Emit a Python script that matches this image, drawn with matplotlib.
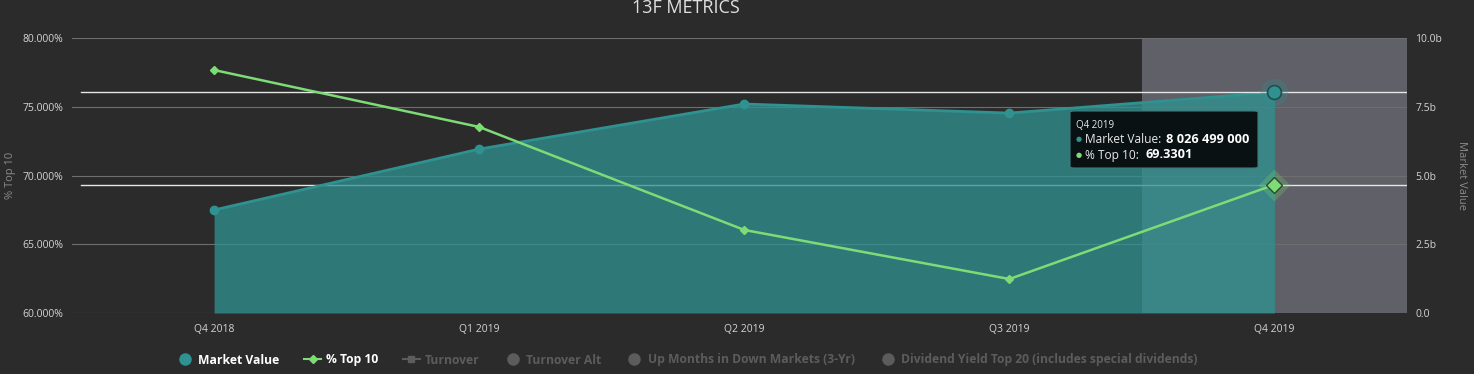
import numpy as np
import matplotlib
matplotlib.use('Agg')
import matplotlib.pyplot as plt
from matplotlib.lines import Line2D
from matplotlib.patches import FancyBboxPatch

plt.rcParams['font.family'] = ['Open Sans', 'DejaVu Sans']

# data
quarters = ['Q4 2018', 'Q1 2019', 'Q2 2019', 'Q3 2019', 'Q4 2019']
market_value = [3.745, 5.96, 7.60, 7.27, 8.0265]   # billions
pct_top10 = [77.67, 73.53, 66.04, 62.47, 69.3301]  # %
pct_ticks = [60, 65, 70, 75, 80]
mv_ticks = [0, 2.5, 5.0, 7.5, 10.0]
mv_tick_labels = ['0.0', '2.5b', '5.0b', '7.5b', '10.0b']
legend_items = ['Market Value', '% Top 10', 'Turnover', 'Turnover Alt',
                'Up Months in Down Markets (3-Yr)',
                'Dividend Yield Top 20 (includes special dividends)']
hover_idx = 4

BG = '#2b2b2c'
GRID = '#6e6e6e'
TEAL = '#2f9190'
GREEN = '#7ddc75'
TICK = '#d4d4d4'

W, H = 1474, 374
fig = plt.figure(figsize=(W / 100, H / 100), dpi=100, facecolor=BG)
ax = fig.add_axes([72 / W, 1 - 313 / H, (1407 - 72) / W, (313 - 38) / H])
ax.set_facecolor(BG)
ax2 = ax.twinx()

x = np.arange(len(quarters))
ax.set_xlim(-0.536, 4.5)
ax.set_ylim(60, 80)
ax2.set_ylim(0, 10)

# hover band
ax.axvspan(hover_idx - 0.5, 4.5, color='#5f6068', zorder=0, lw=0)

for t in pct_ticks:
    ax.axhline(t, color=GRID, lw=0.8, zorder=1)

# market value area (right axis)
ax2.fill_between(x, 0, market_value, color=TEAL, alpha=0.77, lw=0, zorder=2)
ax2.plot(x, market_value, color=TEAL, lw=2, zorder=3)
ax2.plot(x[:hover_idx], market_value[:hover_idx], 'o', color=TEAL, ms=6, zorder=4)
ax2.plot(x[hover_idx], market_value[hover_idx], 'o', color=TEAL, ms=20, alpha=0.25, zorder=4, mec='none')
ax2.plot(x[hover_idx], market_value[hover_idx], 'o', color=TEAL, ms=10, mec='#1d4f50', mew=1.2, zorder=5)

# crosshair lines
ax2.axhline(market_value[hover_idx], xmin=0.007, color='#e6e6e6', lw=1, zorder=3.5)
ax.axhline(pct_top10[hover_idx], xmin=0.007, color='#e6e6e6', lw=1, zorder=1.5)

# % top 10 line, mapped onto the right axis scale
pct_on_ax2 = [(v - 60) / 20 * 10 for v in pct_top10]
ax2.plot(x, pct_on_ax2, color=GREEN, lw=1.8, zorder=6)
ax2.plot(x[:hover_idx], pct_on_ax2[:hover_idx], 'D', color=GREEN, ms=4, zorder=7)
ax2.plot(x[hover_idx], pct_on_ax2[hover_idx], 'D', color=GREEN, ms=16, alpha=0.25, mec='none', zorder=7)
ax2.plot(x[hover_idx], pct_on_ax2[hover_idx], 'D', color=GREEN, ms=8, mec='#2a4a2a', mew=1, zorder=8)

# axes styling
ax.set_xticks(x)
ax.set_xticklabels(quarters)
ax.set_yticks(pct_ticks)
ax.set_yticklabels([f'{t:.3f}%' for t in pct_ticks])
ax2.set_yticks(mv_ticks)
ax2.set_yticklabels(mv_tick_labels)
for a in (ax, ax2):
    a.tick_params(length=0, labelsize=7.5, colors=TICK, pad=6)
    for s in a.spines.values():
        s.set_visible(False)
ax.tick_params(axis='x', pad=8)
ax.set_ylabel('% Top 10', color='#8a8a8a', fontsize=8, va='center')
ax.yaxis.set_label_coords(-0.0464, 0.5)
ax2.set_ylabel('Market Value', color='#8a8a8a', fontsize=8, rotation=270, va='center')
ax2.yaxis.set_label_coords(1.0405, 0.5)

fig.text(686 / W, 1 - 8 / H, '13F METRICS', color='#e0e0e0', fontsize=13,
         ha='center', va='center')

# tooltip
tx0, ty0, tw, th = 1070 / W, 1 - 168 / H, 188 / W, 57 / H
fig.patches.append(FancyBboxPatch((tx0, ty0), tw, th, boxstyle='round,pad=0,rounding_size=0.003',
                                  transform=fig.transFigure, fc='#0a1113', ec='#3c7a78',
                                  lw=0.8, zorder=20))
fig.text(1076 / W, 1 - 125 / H, quarters[hover_idx], color='#e8e8e8', fontsize=7, va='center', zorder=21)
fig.text(1079 / W, 1 - 140 / H, '\u25cf', color=TEAL, fontsize=5, va='center', ha='center', zorder=21)
fig.text(1085 / W, 1 - 140 / H, 'Market Value:', color='#e8e8e8', fontsize=8.6, va='center', zorder=21)
fig.text(1166 / W, 1 - 140 / H, '8 026 499 000', color='white', fontsize=9.2, weight='bold', va='center', zorder=21)
fig.text(1079 / W, 1 - 155 / H, '\u25cf', color=GREEN, fontsize=5, va='center', ha='center', zorder=21)
fig.text(1085 / W, 1 - 155 / H, '% Top 10:', color='#e8e8e8', fontsize=8.6, va='center', zorder=21)
fig.text(1145 / W, 1 - 155 / H, f'{pct_top10[hover_idx]:.4f}', color='white', fontsize=9.2, weight='bold', va='center', zorder=21)

# legend
hidden = '#5c5c5c'
handles = [
    Line2D([], [], ls='none', marker='o', color=TEAL, ms=8),
    Line2D([], [], color=GREEN, lw=1.5, marker='D', ms=4),
    Line2D([], [], color=hidden, lw=1.5, marker='s', ms=4),
    Line2D([], [], ls='none', marker='o', color=hidden, ms=8),
    Line2D([], [], ls='none', marker='o', color=hidden, ms=8),
    Line2D([], [], ls='none', marker='o', color=hidden, ms=8),
]
leg = fig.legend(handles, legend_items, loc='center', bbox_to_anchor=(687 / W, 1 - 360 / H),
                 ncol=6, frameon=False, handlelength=1.4, handletextpad=0.4,
                 columnspacing=2.05, prop={'weight': 'bold', 'size': 8.7})
for i, t in enumerate(leg.get_texts()):
    t.set_color('white' if i < 2 else hidden)

fig.savefig('out.png', dpi=100, facecolor=BG)
